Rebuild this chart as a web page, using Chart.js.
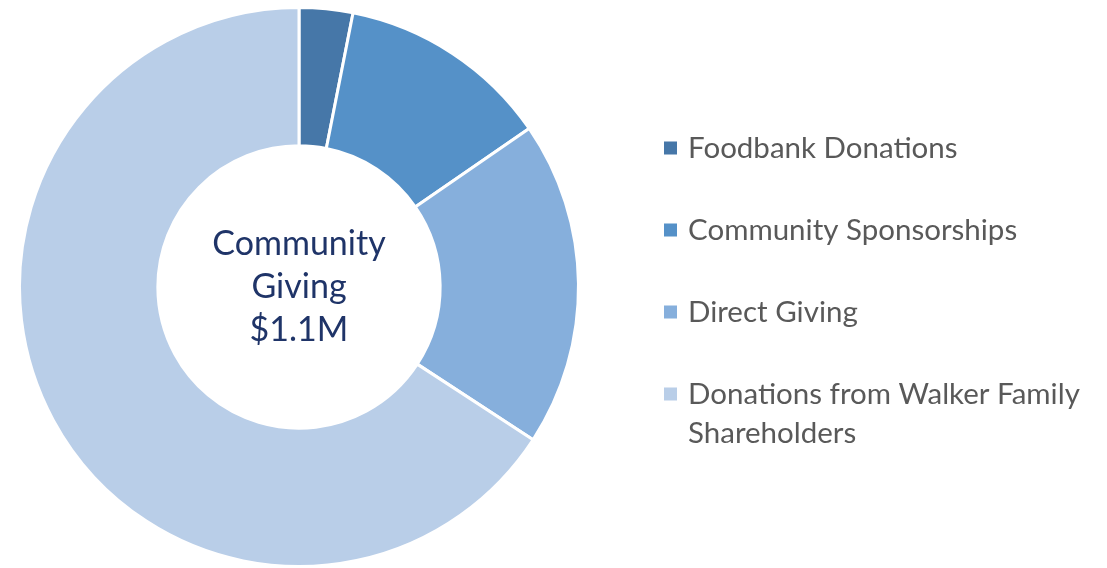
<!DOCTYPE html>
<html>
<head>
<meta charset="utf-8">
<script src="https://cdn.jsdelivr.net/npm/chart.js@4"></script>
<style>
html,body{margin:0;padding:0;background:#fff;}
#wrap{width:1107px;height:568px;position:relative;}
</style>
</head>
<body>
<div id="wrap"><canvas id="c" width="1107" height="568"></canvas></div>
<script>
const categories = ['Foodbank Donations', 'Community Sponsorships', 'Direct Giving', 'Donations from Walker Family Shareholders'];
const shares = [3.1, 12.3, 18.8, 65.8];
const sliceColors = ['#4677A8', '#5591C8', '#86AFDC', '#B9CEE8'];
const centerLines = ['Community', 'Giving', '$1.1M'];

const FONT = 'Lato, "Open Sans", sans-serif';

const centerTextPlugin = {
  id: 'centerText',
  afterDatasetsDraw(chart) {
    const meta = chart.getDatasetMeta(0);
    const arc = meta.data[0];
    if (!arc) return;
    const ctx = chart.ctx;
    ctx.save();
    ctx.fillStyle = '#1F3468';
    ctx.font = '34px ' + FONT;
    ctx.textAlign = 'center';
    ctx.textBaseline = 'middle';
    const lh = 43;
    centerLines.forEach((t, i) => {
      ctx.fillText(t, arc.x, arc.y + (i - 1) * lh);
    });
    ctx.restore();
  }
};

const sideLegendPlugin = {
  id: 'sideLegend',
  afterDraw(chart) {
    const ctx = chart.ctx;
    const labels = chart.data.labels;
    const colors = chart.data.datasets[0].backgroundColor;
    ctx.save();
    ctx.font = '29.5px ' + FONT;
    ctx.textBaseline = 'middle';
    ctx.textAlign = 'left';
    const textX = 688, boxX = 664, box = 13;
    const maxW = 1106 - textX;
    const rowGap = 82, lineH = 39;
    let y = 148;
    labels.forEach((lab, i) => {
      const words = lab.split(' ');
      const lines = [];
      let cur = '';
      words.forEach(w => {
        const test = cur ? cur + ' ' + w : w;
        if (ctx.measureText(test).width > maxW && cur) { lines.push(cur); cur = w; }
        else cur = test;
      });
      if (cur) lines.push(cur);
      ctx.fillStyle = colors[i];
      ctx.fillRect(boxX, y - box / 2, box, box);
      ctx.fillStyle = '#595959';
      lines.forEach((ln, j) => ctx.fillText(ln, textX, y + j * lineH));
      y += rowGap;
    });
    ctx.restore();
  }
};

new Chart(document.getElementById('c'), {
  type: 'doughnut',
  data: {
    labels: categories,
    datasets: [{
      data: shares,
      backgroundColor: sliceColors,
      borderColor: '#ffffff',
      borderWidth: 3,
      hoverOffset: 0
    }]
  },
  options: {
    responsive: false,
    animation: false,
    cutout: '50.5%',
    layout: { padding: { left: 17, right: 526, top: 6, bottom: -2 } },
    plugins: {
      legend: { display: false },
      tooltip: { enabled: false }
    }
  },
  plugins: [centerTextPlugin, sideLegendPlugin]
});
</script>
</body>
</html>
